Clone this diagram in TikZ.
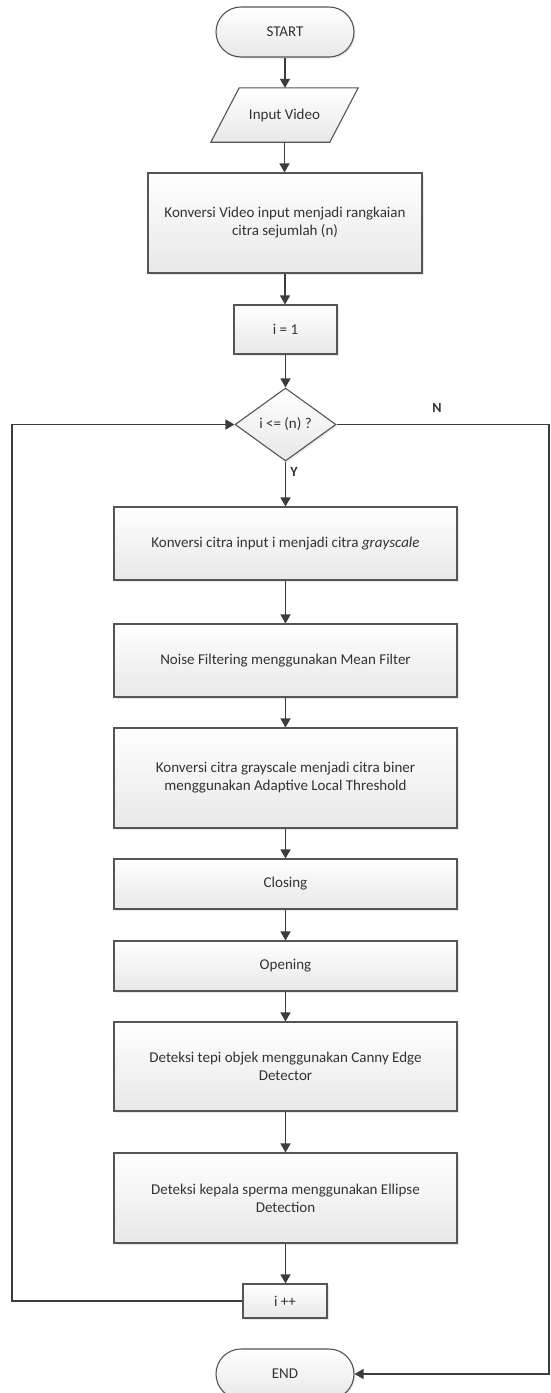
\documentclass[tikz,border=0pt]{standalone}
\usepackage{fontspec}
\setmainfont{Carlito}
\usetikzlibrary{arrows.meta,shapes.geometric,shadows,backgrounds,calc}
\definecolor{ln}{HTML}{3C3C3C}
\definecolor{bd}{HTML}{555555}
\definecolor{tx}{HTML}{333333}
\begin{document}
\begin{tikzpicture}[x=1pt,y=-1pt,
  every node/.style={font=\fontsize{15}{18}\selectfont, text=tx},
  box/.style={draw=bd, line width=1.1pt, top color=white, bottom color=black!9,
    drop shadow={opacity=0.18,shadow xshift=1.5pt,shadow yshift=-1.5pt},
    align=center, inner sep=0pt},
  wide/.style={minimum width=343pt},
  term/.style={box, rounded corners=25pt, minimum width=138pt, minimum height=50pt},
  arr/.style={draw=ln, line width=1.4pt, -{Triangle[length=9pt,width=10pt]}},
  lab/.style={font=\fontsize{14}{16}\selectfont\bfseries, text=tx, inner sep=0pt}
]
\useasboundingbox (0,0) rectangle (551,1393);

\node[term] (start) at (285,32) {START};
\node[align=center, inner sep=0pt, minimum width=147pt, minimum height=54pt] (inp) at (284.5,115) {Input Video};
\node[box, minimum width=274pt, minimum height=100pt] (konv) at (285,223) {Konversi Video input menjadi rangkaian\\citra sejumlah (n)};
\node[box, minimum width=103pt, minimum height=49pt] (i1) at (285.5,329.5) {i = 1};
\node[box, diamond, minimum width=101pt, minimum height=73pt] (dec) at (285.5,424.5) {i <= (n) ?};
\node[box, wide, minimum height=73pt] (gray) at (285.5,543.5) {Konversi citra input i menjadi citra \textit{grayscale}};
\node[box, wide, minimum height=73pt] (noise) at (285.5,660.5) {Noise Filtering menggunakan Mean Filter};
\node[box, wide, minimum height=100pt] (adapt) at (285.5,778) {Konversi citra grayscale menjadi citra biner\\menggunakan Adaptive Local Threshold};
\node[box, wide, minimum height=50pt] (clos) at (285.5,884) {Closing};
\node[box, wide, minimum height=50pt] (open) at (285.5,966) {Opening};
\node[box, wide, minimum height=89pt] (canny) at (285.5,1066.5) {Deteksi tepi objek menggunakan Canny Edge\\Detector};
\node[box, wide, minimum height=90pt] (ellip) at (285.5,1198) {Deteksi kepala sperma menggunakan Ellipse\\Detection};
\node[box, minimum width=84pt, minimum height=34pt] (inc) at (285,1301) {i ++};
\node[term] (end) at (285,1374) {END};

\node[lab] (nlab) at (437,408) {N};
\node[lab] (ylab) at (294,472) {Y};

\begin{scope}[on background layer]
  \fill[white] (0,0) rectangle (551,1393);
  \fill[black, opacity=0.18, shift={(1.5,1.5)}]
    (inp.south west) -- ($(inp.south west)+(119,0)$) -- (inp.north east) -- ($(inp.north east)+(-119,0)$) -- cycle;
  \shade[top color=white, bottom color=black!9, draw=bd, line width=1.1pt]
    (inp.south west) -- ($(inp.south west)+(119,0)$) -- (inp.north east) -- ($(inp.north east)+(-119,0)$) -- cycle;
\end{scope}

\coordinate (lx) at (12,0);
\coordinate (rx) at (549,0);

\draw[arr] (start.south) -- (start.south |- inp.north);
\draw[arr] (inp.south) -- (inp.south |- konv.north);
\draw[arr] (konv.south) -- (konv.south |- i1.north);
\draw[arr] (i1.south) -- (i1.south |- dec.north);
\draw[arr] (dec.south) -- (dec.south |- gray.north);
\draw[arr] (gray.south) -- (gray.south |- noise.north);
\draw[arr] (noise.south) -- (noise.south |- adapt.north);
\draw[arr] (adapt.south) -- (adapt.south |- clos.north);
\draw[arr] (clos.south) -- (clos.south |- open.north);
\draw[arr] (open.south) -- (open.south |- canny.north);
\draw[arr] (canny.south) -- (canny.south |- ellip.north);
\draw[arr] (ellip.south) -- (ellip.south |- inc.north);
\draw[arr] (inc.west) -| (lx |- dec.west) -- (dec.west);
\draw[arr] (dec.east) -| (rx |- end.east) -- (end.east);
\end{tikzpicture}
\end{document}
